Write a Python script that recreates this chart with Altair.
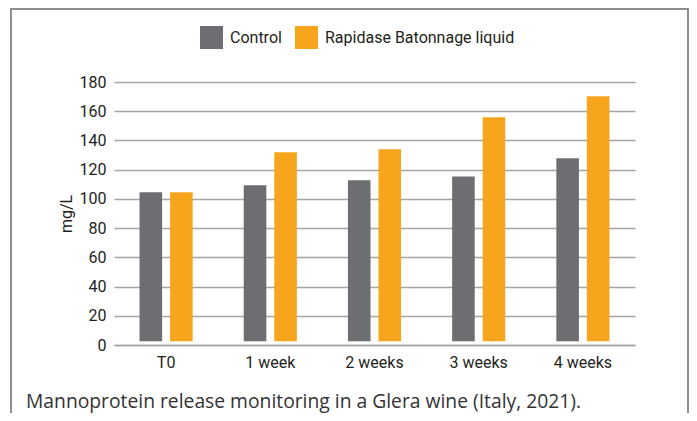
import altair as alt
import pandas as pd

periods = ["T0", "1 week", "2 weeks", "3 weeks", "4 weeks"]
series = ["Control", "Rapidase Batonnage liquid"]
control = [104.5, 109.3, 112.7, 115.4, 127.8]
rapidase = [104.5, 131.9, 134.0, 155.8, 170.3]
y_ticks = [0, 20, 40, 60, 80, 100, 120, 140, 160, 180]
caption = "Mannoprotein release monitoring in a Glera wine (Italy, 2021)."
colors = ["#6d6e71", "#f7a51c"]

rows = []
for p, c, r in zip(periods, control, rapidase):
    rows.append({"period": p, "series": series[0], "value": c})
    rows.append({"period": p, "series": series[1], "value": r})
df = pd.DataFrame(rows)

FONT = "Roboto"

bars = alt.Chart(df).mark_bar().encode(
    x=alt.X(
        "period:N",
        sort=periods,
        scale=alt.Scale(paddingInner=0.49, paddingOuter=0.245),
        axis=alt.Axis(
            title=None, labelAngle=0, ticks=False, grid=False,
            domainColor="#a2a4a7", domainWidth=1.6,
            labelFont=FONT, labelFontSize=16, labelColor="#231f20", labelPadding=9,
        ),
    ),
    xOffset=alt.XOffset("series:N", sort=series, scale=alt.Scale(paddingInner=0.26, paddingOuter=0)),
    y=alt.Y(
        "value:Q",
        scale=alt.Scale(domain=[0, 180], nice=False),
        axis=alt.Axis(
            title="mg/L", values=y_ticks, domain=False, ticks=False,
            gridColor="#a2a4a7", gridWidth=1.6, gridOpacity=1,
            labelFont=FONT, labelFontSize=16, labelColor="#231f20", labelPadding=8,
            titleFont=FONT, titleFontSize=16, titleFontWeight="normal", titleColor="#231f20",
            titlePadding=5,
        ),
    ),
    y2=alt.datum(2.5),
    color=alt.Color(
        "series:N", sort=series,
        scale=alt.Scale(domain=series, range=colors),
        legend=alt.Legend(
            title=None, orient="none", direction="horizontal",
            legendX=86, legendY=-56,
            symbolType="square", symbolSize=529, symbolStrokeWidth=0, symbolOpacity=1,
            labelFont=FONT, labelFontSize=16, labelColor="#231f20", labelOffset=7,
            labelLimit=0, columnPadding=13,
        ),
    ),
)

cap = alt.Chart(pd.DataFrame({"t": [caption]})).mark_text(
    align="left", baseline="alphabetic", font="Open Sans", fontSize=19.3, color="#333333"
).encode(x=alt.value(-88), y=alt.value(326), text="t:N")

frame = alt.Chart(pd.DataFrame({"k": [0]})).mark_rect(
    fill=None, stroke="#8c8f92", strokeWidth=2
).encode(x=alt.value(-103), x2=alt.value(574), y=alt.value(-73), y2=alt.value(340))

chart = alt.layer(frame, bars, cap).properties(
    width=521, height=263,
    autosize=alt.AutoSizeParams(type="none"),
    padding={"left": 106, "top": 74, "right": 54, "bottom": 68},
    background="white",
).configure_view(stroke=None)

chart.save("out.html", embed_options={"renderer": "svg", "actions": False})
